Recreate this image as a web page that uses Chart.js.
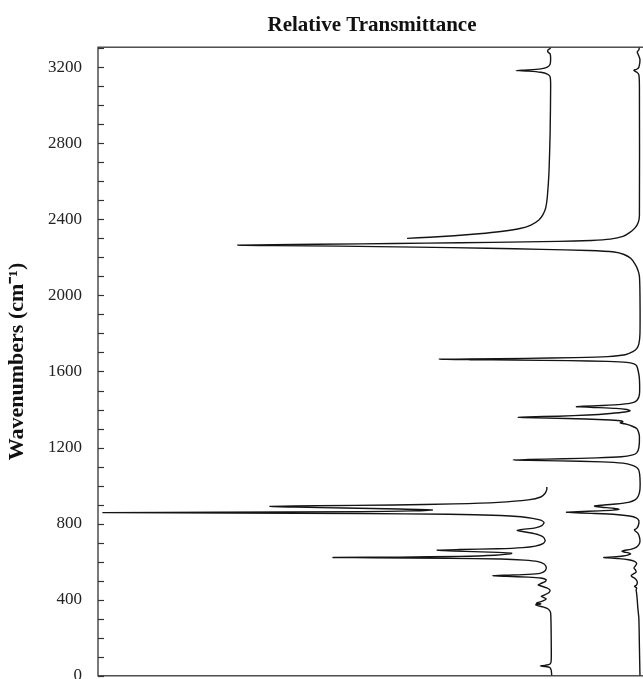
<!DOCTYPE html>
<html>
<head>
<meta charset="utf-8">
<script src="https://cdn.jsdelivr.net/npm/chart.js@4.4.1/dist/chart.umd.min.js"></script>
<style>
  html, body { margin: 0; padding: 0; background: #fff; overflow: hidden; }
  #wrap { width: 648px; height: 694px; }
</style>
</head>
<body>
<div id="wrap"><canvas id="ir-chart" width="648" height="694"></canvas></div>
<script>
// [wavenumber, relative transmittance]
const specALow = [
    [0, 82.8], [30, 82.7], [44, 82.4], [49, 81.6], [52, 80.7], [55, 81.6], [62, 82.5], [80, 82.7],
    [200, 82.7], [330, 82.6], [350, 82.2], [362, 81.2], [369, 80.2], [374, 79.9], [378, 80.8],
    [381, 80.0], [386, 80.4], [395, 81.3], [405, 81.8], [412, 81.3], [418, 80.9], [425, 81.5],
    [438, 82.3], [450, 82.5], [462, 81.9], [472, 80.9], [478, 80.3], [485, 80.8], [495, 81.6],
    [505, 81.8], [514, 80.8], [519, 78.5], [523, 74.5], [526, 72.0], [529, 74.5], [533, 78.5],
    [540, 80.8], [552, 81.6], [570, 81.8], [588, 81.4], [600, 80.3], [608, 77.8], [614, 73.5],
    [618, 64], [621, 50], [622, 42.9], [624, 55], [628, 66], [634, 72.5], [641, 75.2], [645, 75.5],
    [649, 73], [654, 67], [658, 63], [661, 61.9], [664, 66], [668, 73], [674, 77.5], [682, 79.8],
    [695, 81.2], [710, 81.6], [728, 81.3], [742, 80.3], [752, 78.8], [760, 77.2], [765, 76.5],
    [770, 77.5], [778, 79.8], [790, 81.0], [805, 81.4], [818, 80.8], [828, 79.3], [836, 77.2],
    [843, 73.5], [849, 64], [853, 48], [856, 25], [858, 0.9], [860, 22], [863, 48], [867, 57.5],
    [872, 61.0], [877, 55], [882, 45], [887, 36], [891, 31.4], [894, 40], [898, 54], [904, 65],
    [912, 73], [925, 78.5], [940, 80.8], [960, 81.6], [980, 81.9], [993, 81.9]
];

const specAHigh = [
    [2300, 56.4], [2306, 60.5], [2314, 65], [2324, 69.5], [2336, 73.5], [2352, 77], [2370, 79],
    [2395, 80.4], [2425, 81.2], [2460, 81.7], [2520, 82.0], [2650, 82.3], [2850, 82.5],
    [3100, 82.6], [3150, 82.5], [3164, 82.0], [3173, 80.8], [3179, 78.5], [3182, 76.3],
    [3185, 78.5], [3191, 80.8], [3200, 82.0], [3215, 82.5], [3245, 82.6], [3270, 82.5],
    [3280, 82.1], [3290, 82.1], [3298, 82.5], [3305, 82.6]
];

const specB = [
    [0, 98.9], [150, 98.8], [300, 98.7], [360, 98.5], [400, 98.4], [430, 98.3], [452, 98.2],
    [462, 98.3], [470, 97.9], [478, 98.3], [495, 98.4], [512, 98.0], [520, 97.5], [527, 97.3],
    [534, 97.6], [545, 98.2], [556, 98.1], [566, 97.8], [576, 98.0], [590, 98.3], [602, 97.9],
    [610, 96.8], [616, 95.0], [620, 93.0], [622, 92.3], [625, 94.0], [630, 95.8], [636, 96.8],
    [641, 97.2], [646, 96.8], [651, 96.0], [655, 95.6], [659, 96.0], [665, 97.2], [675, 98.2],
    [690, 98.7], [706, 98.9], [730, 98.8], [750, 98.5], [762, 98.0], [768, 97.9], [775, 98.3],
    [790, 98.6], [815, 98.7], [830, 98.2], [840, 97.0], [848, 94.5], [854, 90.0], [858, 86.5],
    [860, 85.5], [863, 87.5], [867, 91.5], [871, 94.0], [876, 95.1], [881, 94.0], [886, 92.0],
    [890, 90.8], [893, 90.6], [897, 92.0], [903, 94.5], [912, 96.8], [925, 98.0], [945, 98.6],
    [980, 98.9], [1040, 98.9], [1080, 98.7], [1095, 98.3], [1108, 97.4], [1118, 95.8],
    [1125, 92], [1130, 84], [1133, 78.5], [1135, 75.7], [1137, 78.5], [1141, 85], [1146, 91],
    [1152, 95.5], [1160, 97.4], [1172, 98.3], [1200, 98.7], [1260, 98.8], [1285, 98.6],
    [1300, 98.3], [1312, 97.5], [1322, 96.5], [1327, 95.6], [1330, 95.3], [1334, 95.8],
    [1340, 95.6], [1345, 93.5], [1350, 89], [1355, 82], [1358, 77.5], [1359, 76.7],
    [1361, 78.5], [1365, 84], [1371, 89.5], [1379, 93.5], [1387, 96.2], [1394, 97.1],
    [1400, 96.5], [1406, 94.5], [1411, 90.5], [1414, 88], [1415, 87.3], [1417, 88.5],
    [1421, 92], [1427, 95.5], [1436, 97.6], [1450, 98.4], [1480, 98.8], [1560, 98.8],
    [1600, 98.6], [1630, 98.3], [1640, 97.8], [1648, 96.5], [1653, 93], [1657, 86], [1660, 76],
    [1662, 68], [1664, 62.3], [1666, 68], [1669, 78], [1673, 87], [1678, 93], [1688, 96.2],
    [1704, 97.6], [1720, 98.3], [1745, 98.7], [1800, 98.9], [2000, 98.9], [2100, 98.8],
    [2135, 98.5], [2165, 98.0], [2195, 97.2], [2215, 96.0], [2228, 94.2], [2236, 89.5],
    [2242, 81], [2248, 71], [2254, 58], [2259, 44], [2262, 32], [2264, 25.5], [2267, 32],
    [2271, 48], [2275, 60], [2279, 72], [2284, 84], [2289, 90], [2296, 93.5], [2310, 95.8],
    [2330, 97.0], [2355, 98.0], [2385, 98.6], [2420, 98.8], [3100, 98.8], [3160, 98.7],
    [3172, 98.4], [3180, 97.9], [3184, 97.8], [3189, 98.3], [3200, 98.7], [3240, 98.9],
    [3265, 98.6], [3280, 98.4], [3292, 98.7], [3305, 98.8]
];

const yTickLabels = [0, 400, 800, 1200, 1600, 2000, 2400, 2800, 3200];
const minorStep = 100;

const toPoints = spec => spec.map(([wn, t]) => ({ x: t, y: wn }));

const lineStyle = {
    borderColor: '#141414',
    borderWidth: 1.4,
    pointRadius: 0,
    showLine: true,
    tension: 0.2,
    fill: false
};

// frame round the plot plus short inward tick marks every 100 cm-1
const frameTicks = {
    id: 'frameTicks',
    afterDraw(chart) {
        const { ctx, chartArea: a } = chart;
        const yScale = chart.scales.y;
        ctx.save();
        ctx.strokeStyle = '#333';
        ctx.lineWidth = 1.3;
        ctx.strokeRect(a.left, a.top, a.right - a.left, a.bottom - a.top);
        ctx.lineWidth = 1.2;
        for (let v = yScale.min; v <= yScale.max; v += minorStep) {
            const y = Math.round(yScale.getPixelForValue(v)) + 0.5;
            ctx.beginPath();
            ctx.moveTo(a.left, y);
            ctx.lineTo(a.left + 6, y);
            ctx.stroke();
        }
        ctx.restore();
    }
};

const ctx = document.getElementById('ir-chart').getContext('2d');

new Chart(ctx, {
    type: 'scatter',
    data: {
        datasets: [
            { label: 'A low', data: toPoints(specALow), ...lineStyle },
            { label: 'A high', data: toPoints(specAHigh), ...lineStyle },
            { label: 'B', data: toPoints(specB), ...lineStyle }
        ]
    },
    options: {
        responsive: false,
        animation: false,
        events: [],
        layout: { padding: { left: 0, right: 2, top: 0, bottom: 0 } },
        plugins: {
            legend: { display: false },
            tooltip: { enabled: false },
            title: {
                display: true,
                text: 'Relative Transmittance',
                fullSize: false,
                color: '#111',
                font: { family: 'Liberation Serif', size: 21, weight: 'bold', lineHeight: 1.2 },
                padding: { top: 13, bottom: 9 }
            }
        },
        scales: {
            x: {
                type: 'linear',
                min: 0,
                max: 100,
                display: false
            },
            y: {
                type: 'linear',
                min: 0,
                max: 3305,
                afterFit: scale => { scale.width = 98; },
                afterBuildTicks: scale => {
                    scale.ticks = yTickLabels.map(v => ({ value: v }));
                },
                grid: { display: false },
                border: { display: false },
                ticks: {
                    autoSkip: false,
                    padding: 8,
                    color: '#222',
                    font: { family: 'Liberation Serif', size: 17 },
                    callback: v => String(v)
                },
                title: {
                    display: true,
                    text: 'Wavenumbers (cm\u207B\u00B9)',
                    color: '#111',
                    font: { family: 'Liberation Serif', size: 22, weight: 'bold' },
                    padding: { top: 4, bottom: 0 }
                }
            }
        }
    },
    plugins: [frameTicks]
});
</script>
</body>
</html>
